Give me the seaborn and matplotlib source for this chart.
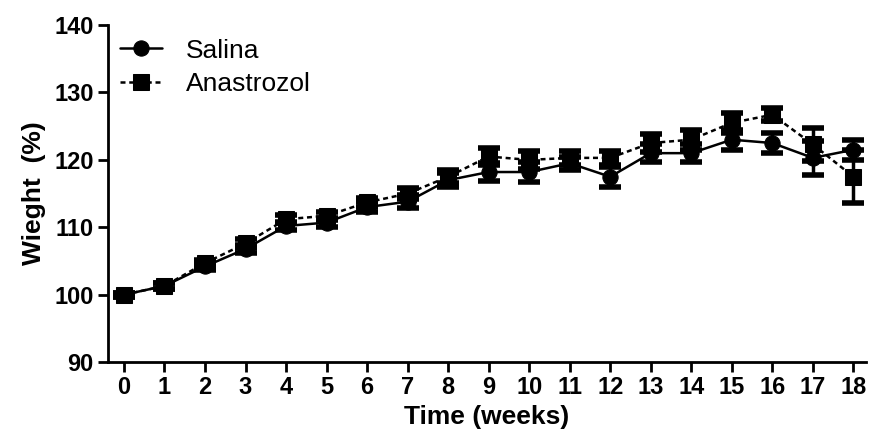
import numpy as np
import pandas as pd
import matplotlib
matplotlib.use('Agg')
import matplotlib.pyplot as plt
import seaborn as sns

# values (mean and SEM, % of starting weight)
weeks = list(range(19))
salina_mean = [100, 101.3, 104.2, 106.8, 110.2, 110.7, 113.0, 113.8, 117.0, 118.2,
               118.2, 119.5, 117.5, 121.0, 121.0, 123.0, 122.5, 120.3, 121.5]
salina_sem = [0.3, 0.4, 0.5, 0.6, 0.6, 0.7, 0.7, 1.0, 1.0, 1.3,
              1.5, 1.0, 1.5, 1.3, 1.3, 1.5, 1.5, 2.5, 1.5]
anastrozol_mean = [100, 101.3, 104.7, 107.6, 111.2, 111.7, 113.7, 115.0, 117.5, 120.5,
                   120.0, 120.3, 120.3, 122.5, 123.0, 125.5, 126.7, 122.3, 117.5]
anastrozol_sem = [0.3, 0.4, 0.5, 0.6, 0.6, 0.6, 0.7, 0.8, 1.0, 1.3,
                  1.3, 1.0, 1.0, 1.3, 1.5, 1.5, 1.0, 2.5, 3.9]
groups = ['Salina', 'Anastrozol']

df = pd.DataFrame({
    'week': weeks * 2,
    'weight': salina_mean + anastrozol_mean,
    'sem': salina_sem + anastrozol_sem,
    'group': [groups[0]] * len(weeks) + [groups[1]] * len(weeks),
})

sns.set_style('ticks', {'axes.edgecolor': 'black', 'text.color': 'black',
                        'xtick.color': 'black', 'ytick.color': 'black',
                        'axes.labelcolor': 'black'})
plt.rcParams['font.family'] = ['Liberation Sans', 'DejaVu Sans']

fig = plt.figure(figsize=(8.69, 4.4), dpi=100)
ax = fig.add_axes([0.124, 0.177, 0.872, 0.766])

# error bars first, so markers sit on top
for g in groups:
    sub = df[df['group'] == g]
    ax.errorbar(sub['week'], sub['weight'], yerr=sub['sem'], fmt='none',
                ecolor='black', elinewidth=2.5, capsize=8, capthick=4, zorder=2)

sns.lineplot(data=df, x='week', y='weight', style='group', style_order=groups,
             markers={'Salina': 'o', 'Anastrozol': 's'},
             dashes={'Salina': '', 'Anastrozol': (2, 1.5)},
             color='black', linewidth=1.8, markersize=11, markeredgecolor='black',
             ax=ax, zorder=3)

ax.set_xlim(-0.4, 18.3)
ax.set_ylim(90, 140)
ax.set_xticks(weeks)
ax.set_yticks(range(90, 141, 10))
ax.set_xlabel('Time (weeks)', fontsize=19, fontweight='bold', labelpad=4)
ax.set_ylabel('Wieght  (%)', fontsize=19, fontweight='bold', labelpad=6)
ax.tick_params(axis='both', labelsize=17, width=2, length=7, direction='out', pad=3)
for lab in ax.get_xticklabels() + ax.get_yticklabels():
    lab.set_fontweight('bold')

for side in ['top', 'right']:
    ax.spines[side].set_visible(False)
for side in ['left', 'bottom']:
    ax.spines[side].set_linewidth(2)

leg = ax.legend(title=None, frameon=False, loc='upper left', fontsize=19,
                handlelength=1.6, handletextpad=0.9, labelspacing=0.35,
                bbox_to_anchor=(-0.015, 1.03))

fig.savefig('out.png', dpi=100)
